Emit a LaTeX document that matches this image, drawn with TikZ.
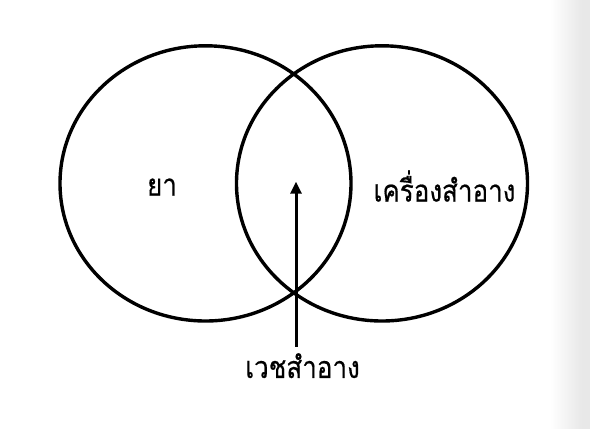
\documentclass[tikz,border=0pt]{standalone}
\usepackage{fontspec}
\usepackage{graphicx}
\newfontfamily\thaifont[Script=Thai,FakeBold=0.5]{Loma}
\newcommand{\tallthai}[1]{\scalebox{1}[1.17]{#1}}
\usetikzlibrary{arrows.meta}
\begin{document}
\begin{tikzpicture}[x=1pt,y=1pt,
  lbl/.style={font=\thaifont\fontsize{26}{31}\selectfont, inner sep=2pt},
  ringline/.style={line width=3.4pt},
  pointer/.style={line width=3pt, -{Triangle[width=11pt,length=12pt]}}]
  \useasboundingbox (0,0) rectangle (590,429);
  \fill[white] (0,0) rectangle (590,429);
  \shade[left color=white, right color=black!9] (550,0) rectangle (582,429);
  \fill[black!9] (582,0) rectangle (590,429);
  \draw[ringline] (205.5,245.6) ellipse [x radius=145.5, y radius=137.6];
  \draw[ringline] (382,245.6) ellipse [x radius=145.5, y radius=137.6];
  \node[lbl] (ya) at (162,242) {\tallthai{ยา}};
  \node[lbl] (cosm) at (444.5,243) {\tallthai{เครื่องสำอาง}};
  \node[lbl, anchor=north] (cosmeceutical) at (302.5,78) {\tallthai{เวชสำอาง}};
  \coordinate (tip) at (296,247.3);
  \coordinate (tail) at (296,82);
  \draw[pointer] (tail) -- (tip);
\end{tikzpicture}
\end{document}
